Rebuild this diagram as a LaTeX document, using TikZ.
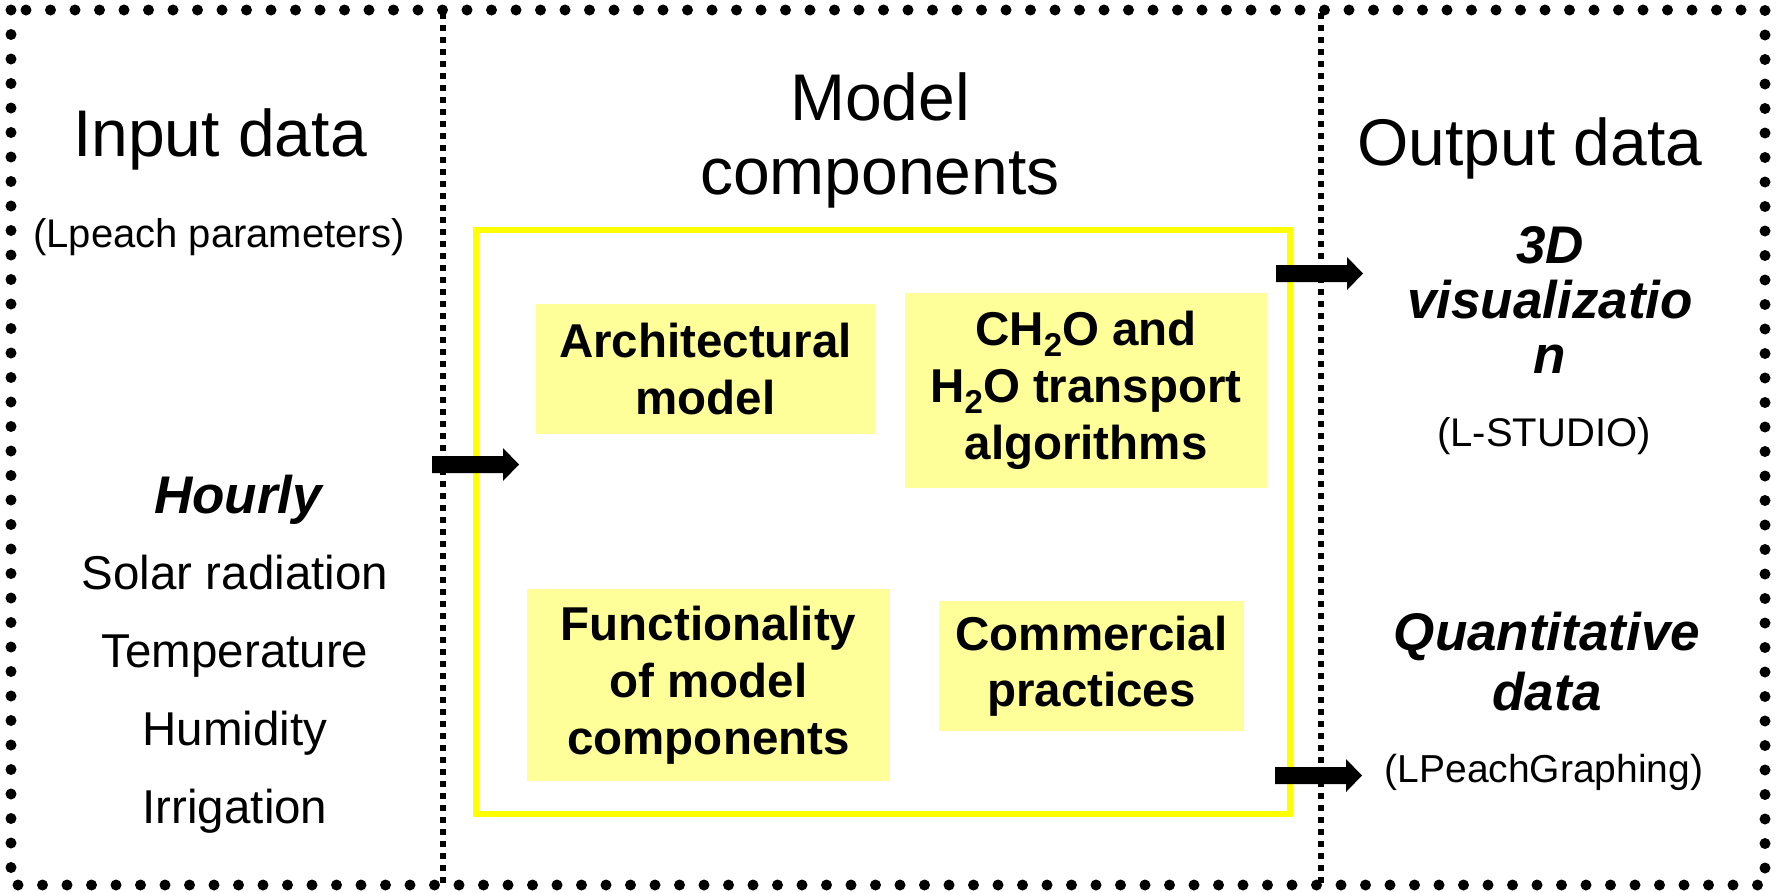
\documentclass[tikz,border=0pt]{standalone}
\usepackage{fontspec}
\setmainfont{Liberation Sans}
\definecolor{boxyellow}{HTML}{FFFF99}
\definecolor{frameyellow}{HTML}{FFFF00}
\newcommand{\chemsub}[1]{\raisebox{-0.22em}{\fontsize{33}{33}\selectfont #1}}
\tikzset{
  every node/.style={inner sep=0pt, outer sep=0pt},
  dotborder/.style={line width=11pt, line cap=round, dash pattern=on 0pt off 24.5pt},
  divider/.style={line width=6pt, dash pattern=on 6pt off 6pt},
  modelframe/.style={draw=frameyellow, line width=6.5pt},
  ybox/.style={fill=boxyellow, align=center, font=\bfseries\fontsize{47.5}{57}\selectfont},
  headtxt/.style={anchor=base, align=center, font=\fontsize{66}{74}\selectfont},
  subtxt/.style={anchor=base, align=center, font=\fontsize{40}{48}\selectfont},
  listtxt/.style={anchor=base, align=center, font=\fontsize{47.5}{77.7}\selectfont},
  bitxt/.style={anchor=base, align=center, font=\bfseries\itshape\fontsize{53}{55}\selectfont},
  blockarrow/.pic={\fill[black] (0,-8.5) -- (71,-8.5) -- (71,-16.5) -- (87,0) -- (71,16.5) -- (71,8.5) -- (0,8.5) -- cycle;}
}
\begin{document}
\begin{tikzpicture}[x=1pt,y=-1pt]
\useasboundingbox (0,0) rectangle (1778,892);
\fill[white] (0,0) rectangle (1778,892);
% borders
\draw[dotborder] (11,10) rectangle (1765,885);
\draw[divider] (443,13) -- (443,885);
\draw[divider] (1321,13) -- (1321,885);
\draw[modelframe] (476,230) rectangle (1290,814);
% input column (base anchor = baseline of last line)
\node[headtxt] (inTitle) at (220,156) {Input data};
\node[subtxt] (inSub) at (219,247) {(Lpeach parameters)};
\node[bitxt] (hourly) at (238,513) {Hourly};
\node[listtxt] (weather) at (235,823) {Solar radiation\\Temperature\\Humidity\\Irrigation};
% model column
\node[headtxt] (mcTitle) at (880,194) {Model\\components};
\node[ybox, minimum width=339pt, minimum height=130pt] (arch) at (705.5,369) {Architectural\\model};
\node[ybox, minimum width=362pt, minimum height=195pt] (trans) at (1086,390.5) {CH\chemsub{2}O and\\H\chemsub{2}O transport\\algorithms};
\node[ybox, minimum width=363pt, minimum height=192pt] (func) at (708.5,685) {Functionality\\of model\\components};
\node[ybox, font=\bfseries\fontsize{47.5}{56}\selectfont, minimum width=305pt, minimum height=130pt] (comm) at (1091.5,666) {Commercial\\practices};
% output column
\node[headtxt] (outTitle) at (1530,165) {Output data};
\node[bitxt] (vis) at (1550,373) {3D\\visualizatio\\n};
\node[subtxt] (lstudio) at (1544,446) {(L-STUDIO)};
\node[bitxt, font=\bfseries\itshape\fontsize{53}{60}\selectfont] (quant) at (1547,710) {Quantitative\\data};
\node[subtxt, font=\fontsize{39}{47}\selectfont] (graphing) at (1544,782) {(LPeachGraphing)};
% arrows
\coordinate (inArrow) at (432,464.5);
\coordinate (visArrow) at (1276,273.5);
\coordinate (quantArrow) at (1275,775.5);
\pic at (inArrow) {blockarrow};
\pic at (visArrow) {blockarrow};
\pic at (quantArrow) {blockarrow};
\end{tikzpicture}
\end{document}
